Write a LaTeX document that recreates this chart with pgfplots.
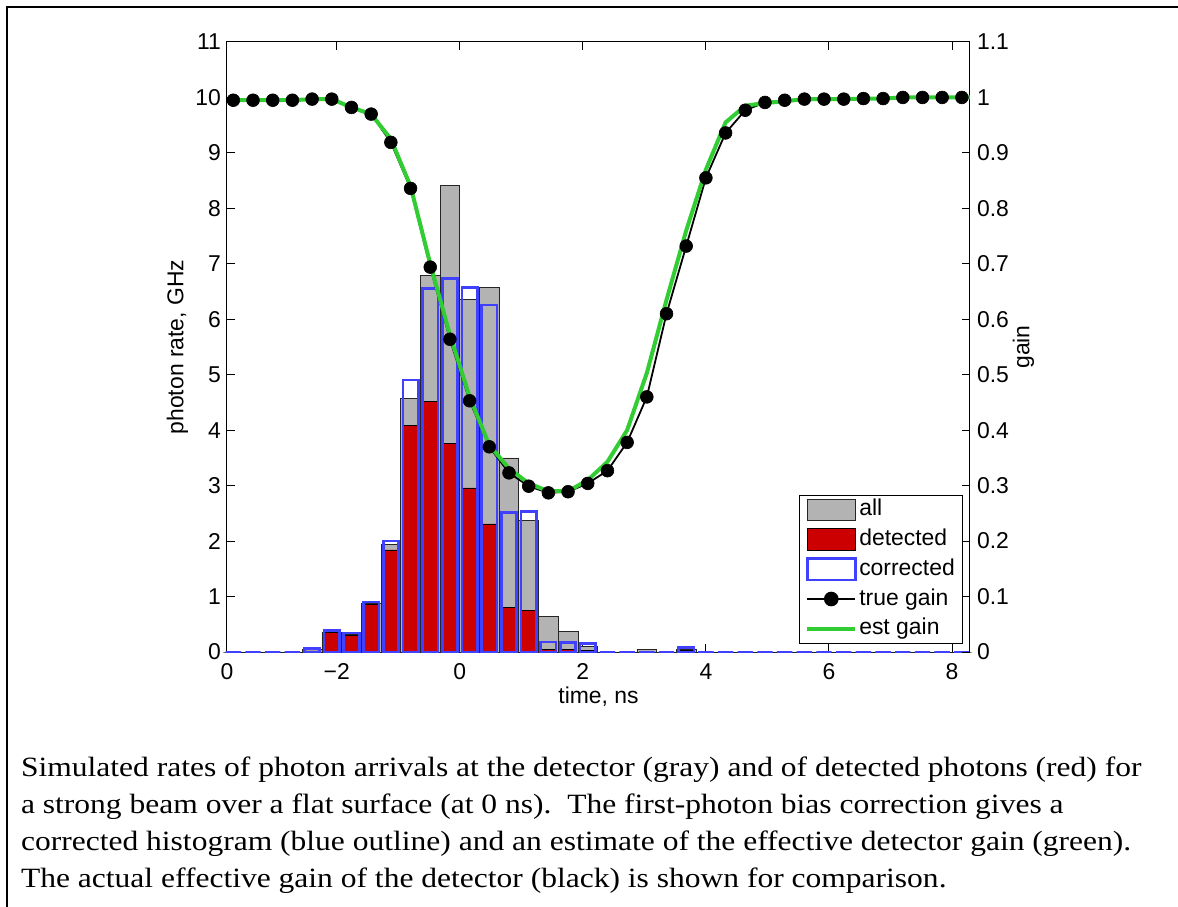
\documentclass[border=0pt]{standalone}
\usepackage{fontspec}
\setmainfont{Liberation Sans}
\newfontfamily\capfont{Liberation Serif}[FakeStretch=1.13]
\usepackage{pgfplots}
\pgfplotsset{compat=1.18}
\usepackage{pgfplotstable}
\definecolor{allgray}{RGB}{179,179,179}
\definecolor{detred}{RGB}{204,0,0}
\definecolor{corblue}{RGB}{64,64,255}
\definecolor{estgreen}{RGB}{50,205,50}

\pgfplotstableread{
x all det cor tg
-3.68 0 0 0 0.995
-3.36 0 0 0 0.995
-3.04 0 0 0 0.995
-2.72 0 0 0 0.995
-2.40 0.04 0.02 0.065 0.997
-2.08 0.36 0.355 0.385 0.997
-1.76 0.31 0.305 0.34 0.982
-1.44 0.87 0.865 0.90 0.970
-1.12 1.94 1.84 2.00 0.919
-0.80 4.575 4.09 4.905 0.836
-0.48 6.79 4.525 6.55 0.694
-0.16 8.41 3.76 6.73 0.564
0.16 6.36 2.96 6.57 0.453
0.48 6.58 2.31 6.26 0.370
0.80 3.50 0.805 2.51 0.323
1.12 2.37 0.745 2.53 0.299
1.44 0.64 0.04 0.18 0.287
1.76 0.37 0.04 0.175 0.289
2.08 0.11 0.03 0.155 0.304
2.40 0 0 0 0.327
2.72 0 0 0 0.378
3.04 0.05 0 0 0.460
3.36 0 0 0 0.610
3.68 0.05 0.03 0.08 0.732
4.00 0 0 0 0.855
4.32 0 0 0 0.936
4.64 0 0 0 0.977
4.96 0 0 0 0.991
5.28 0 0 0 0.995
5.60 0 0 0 0.997
5.92 0 0 0 0.997
6.24 0 0 0 0.997
6.56 0 0 0 0.998
6.88 0 0 0 0.998
7.20 0 0 0 1.0
7.52 0 0 0 1.0
7.84 0 0 0 1.0
8.16 0 0 0 1.0
}\bins

\pgfplotstableread{
x eg
-4.00 0.995
-3.68 0.995
-3.36 0.995
-3.04 0.995
-2.72 0.995
-2.40 0.997
-2.08 0.997
-1.76 0.982
-1.44 0.970
-1.12 0.925
-0.80 0.840
-0.48 0.700
-0.16 0.572
0.16 0.460
0.48 0.373
0.80 0.331
1.12 0.304
1.44 0.290
1.76 0.290
2.08 0.310
2.40 0.343
2.72 0.400
3.04 0.503
3.36 0.635
3.68 0.760
4.00 0.870
4.32 0.955
4.64 0.985
4.96 0.990
5.28 0.993
5.60 0.997
5.92 0.997
6.24 0.997
6.56 0.998
6.88 0.998
7.20 1.0
7.52 1.0
7.84 1.0
8.16 1.0
8.48 1.0
}\est

\pgfplotsset{
  common/.style={
    at={(0bp,0bp)}, anchor=south west,
    scale only axis, width=371.5bp, height=305bp,
    xmin=-3.783, xmax=8.292,
    tick align=inside,
    major tick length=3.8bp,
    tick style={line width=0.5bp, black},
    axis line style={line width=0.5bp},
    every tick label/.append style={font=\fontsize{11.5}{13}\selectfont},
    /pgf/number format/assume math mode=true,
  }
}

\begin{document}
\begin{tikzpicture}
\useasboundingbox (-113.5bp,-127.5bp) rectangle (475.5bp,326bp);
\draw[line width=0.85bp] (-110bp,-127.5bp) -- (-110bp,322.5bp) -- (475.5bp,322.5bp);

\begin{axis}[common,
  ymin=0, ymax=11,
  xtick={-3.783,-2,0,2,4,6,8},
  xticklabels={0,−2,0,2,4,6,8},
  ytick={0,1,2,3,4,5,6,7,8,9,10,11},
  ytick pos=left, xtick pos=both,
  xticklabel style={yshift=-2.2bp},
  yticklabel style={xshift=0.5bp},
  xlabel={time, ns}, ylabel={photon rate, GHz},
  every axis x label/.style={at={(axis description cs:0.5,-0.0738)}, anchor=center, font=\fontsize{11.5}{13}\selectfont},
  every axis y label/.style={at={(axis description cs:-0.0666,0.5)}, anchor=center, rotate=90, font=\fontsize{11.5}{13}\selectfont},
  clip=false,
]
\addplot[ybar, bar width=0.32, bar shift=0pt, fill=allgray, draw=black!85, line width=0.35bp] table[x=x,y=all]{\bins};
\addplot[ybar, bar width=0.25, bar shift=0pt, fill=detred, draw=black, line width=0.35bp] table[x=x,y=det]{\bins};
\addplot[ybar, bar width=0.25, bar shift=0pt, fill=none, draw=corblue, line width=1.35bp] table[x=x,y=cor]{\bins};
\end{axis}

\begin{axis}[common,
  ymin=0, ymax=1.1,
  hide x axis,
  axis y line*=right,
  ytick={0,0.1,0.2,0.3,0.4,0.5,0.6,0.7,0.8,0.9,1,1.1},
  ylabel={gain},
  every axis y label/.style={at={(axis description cs:1.072,0.5)}, anchor=center, rotate=90, font=\fontsize{11.5}{13}\selectfont},
  legend cell align=left,
  legend style={at={(axis description cs:0.9906,0.0131)}, anchor=south east,
    draw=black, line width=0.6bp, fill=white,
    font=\fontsize{11.5}{13}\selectfont,
    inner xsep=2.8bp, inner ysep=1.5bp, row sep=3.0bp,
    nodes={inner xsep=1bp, inner ysep=0.5bp, text height=8.4bp, text depth=2.4bp}},
]
\addlegendimage{legend image code/.code={\draw[fill=allgray,draw=black!85,line width=0.5bp] (0bp,-5.3bp) rectangle (24bp,5.3bp);}}
\addlegendentry{all}
\addlegendimage{legend image code/.code={\draw[fill=detred,draw=black,line width=0.5bp] (0bp,-5.3bp) rectangle (24bp,5.3bp);}}
\addlegendentry{detected}
\addlegendimage{legend image code/.code={\draw[fill=white,draw=corblue,line width=1.35bp] (0bp,-5.3bp) rectangle (24bp,5.3bp);}}
\addlegendentry{corrected}
\addplot[black, line width=0.9bp, mark=*, mark size=3.2bp, mark options={fill=black, line width=0.3bp},
  legend image code/.code={\draw[black,line width=1bp] (0bp,0bp) -- (24bp,0bp); \fill[black] (12bp,0bp) circle (3.2bp);}]
  table[x=x,y=tg]{\bins};
\addlegendentry{true gain}
\addplot[estgreen, line width=2bp,
  legend image code/.code={\draw[estgreen,line width=2bp] (0bp,0bp) -- (24bp,0bp);}]
  table[x=x,y=eg]{\est};
\addlegendentry{est gain}
\end{axis}

\begin{scope}[every node/.style={anchor=base west, inner sep=0pt, font=\capfont\fontsize{14}{16}\selectfont}]
\node at (-103.15bp,-62.35bp) {Simulated rates of photon arrivals at the detector (gray) and of detected photons (red) for};
\node at (-103.15bp,-80.85bp) {a strong beam over a flat surface (at 0 ns).\ \ The first-photon bias correction gives a};
\node at (-103.15bp,-99.35bp) {corrected histogram (blue outline) and an estimate of the effective detector gain (green).};
\node at (-103.15bp,-117.85bp) {The actual effective gain of the detector (black) is shown for comparison.};
\end{scope}
\end{tikzpicture}
\end{document}
